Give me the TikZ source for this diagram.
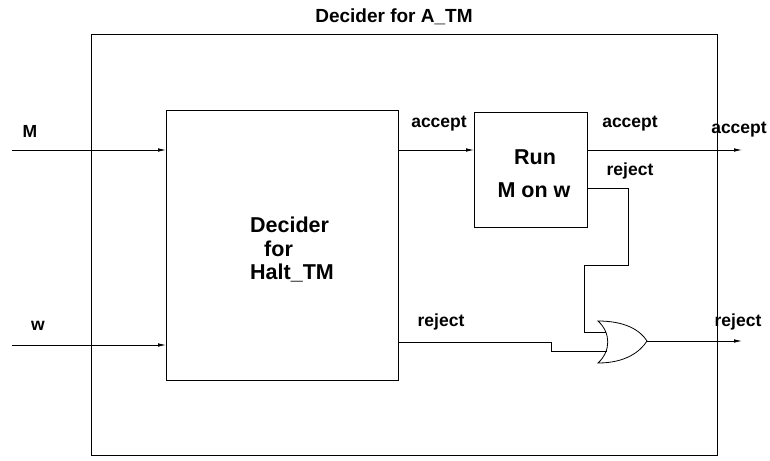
\documentclass[tikz,border=0pt]{standalone}
\usepackage{fontspec}
\setmainfont{Liberation Sans}
\usetikzlibrary{arrows.meta}
\begin{document}
\begin{tikzpicture}[x=1pt,y=-1pt,
  wire/.style={line width=0.8pt},
  arr/.style={wire,-{Latex[length=8pt,width=3.6pt]}},
  box/.style={draw,line width=0.8pt,anchor=north west,inner sep=0pt},
  lbl/.style={font=\fontsize{17.5}{20}\selectfont\bfseries,inner sep=0pt},
  big/.style={font=\fontsize{21.5}{25}\selectfont\bfseries,inner sep=0pt}]
\useasboundingbox (0,0) rectangle (770,460);

% enclosing decider and its title
\node[box,minimum width=626pt,minimum height=421pt] (outer) at (91,34) {};
\node[big,font=\fontsize{19}{23}\selectfont\bfseries] (title) at (394,17) {Decider for A\_TM};

% inner machines
\node[box,minimum width=232pt,minimum height=270pt] (halt) at (166,110) {};
\node[big,anchor=west] (h1) at (250,225) {Decider};
\node[big,anchor=west] (h2) at (264,249) {for};
\node[big,anchor=west] (h3) at (250,273) {Halt\_TM};

\node[box,minimum width=113pt,minimum height=115pt] (run) at (474,112) {};
\node[big] (r1) at (535,157) {Run};
\node[big] (r2) at (534,190) {M on w};

% input and output ends
\coordinate (Min) at (12,150);
\coordinate (win) at (12,345);
\coordinate (accOut) at (742,150);
\coordinate (rejOut) at (742,341);

% OR gate
\coordinate (orA) at (606,332);
\coordinate (orB) at (607,351);
\coordinate (orOut) at (647,341);
\draw[wire] (598,321) .. controls (611,333) and (611,351) .. (598,363)
  .. controls (625,363) and (640,352) .. (orOut)
  .. controls (640,330) and (625,321) .. (598,321) -- cycle;

% connectors
\draw[arr] (Min) -- (Min -| halt.west);
\draw[arr] (win) -- (win -| halt.west);
\draw[arr] (halt.east |- Min) -- (run.west |- Min);
\draw[arr] (run.east |- Min) -- (accOut);
\draw[wire] (run.east |- 0,188) -- (628,188) -- (628,265) -- (584,265) -- (584,332) -- (orA);
\draw[wire] (halt.east |- 0,342) -- (551,342) -- (551,351) -- (orB);
\draw[arr] (orOut) -- (rejOut);

% labels
\node[lbl] (lM) at (30,131) {M};
\node[lbl] (lw) at (38,326) {w};
\node[lbl] (la1) at (439,124) {accept};
\node[lbl] (la2) at (630,124) {accept};
\node[lbl] (la3) at (739,130) {accept};
\node[lbl] (lr1) at (630,171) {reject};
\node[lbl] (lr2) at (441,322) {reject};
\node[lbl] (lr3) at (738,322) {reject};
\end{tikzpicture}
\end{document}
